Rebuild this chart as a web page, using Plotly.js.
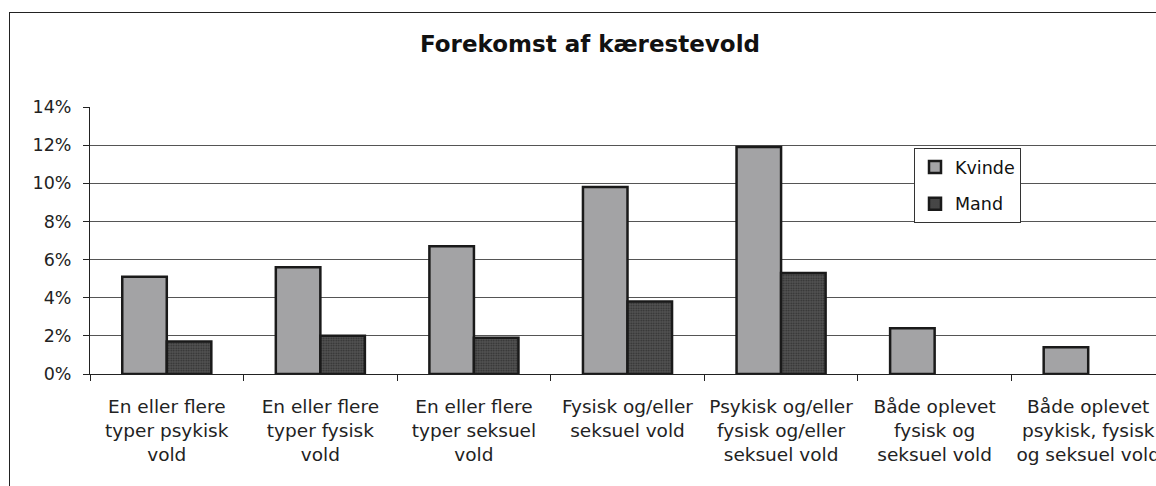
<!DOCTYPE html>
<html>
<head>
<meta charset="utf-8">
<script src="https://cdn.plot.ly/plotly-3.0.1.min.js"></script>
<style>
html, body { margin: 0; padding: 0; overflow: hidden; background: #fff; width: 1156px; height: 486px; }
#chart { position: absolute; left: 9px; top: 12px; width: 1160px; height: 480px; border: 1px solid #222; }
</style>
</head>
<body>
<div id="chart"></div>
<script>
const categories = [
  "En eller flere<br>typer psykisk<br>vold",
  "En eller flere<br>typer fysisk<br>vold",
  "En eller flere<br>typer seksuel<br>vold",
  "Fysisk og/eller<br>seksuel vold",
  "Psykisk og/eller<br>fysisk og/eller<br>seksuel vold",
  "Både oplevet<br>fysisk og<br>seksuel vold",
  "Både oplevet<br>psykisk, fysisk<br>og seksuel vold"
];
const kvinde = [0.051, 0.056, 0.067, 0.098, 0.119, 0.024, 0.014];
const mand = [0.017, 0.020, 0.019, 0.038, 0.053, null, null];
const yTickVals = [0, 0.02, 0.04, 0.06, 0.08, 0.10, 0.12, 0.14];
const yTickText = ["0%", "2%", "4%", "6%", "8%", "10%", "12%", "14%"];

const font = "DejaVu Sans, Verdana, sans-serif";

const traces = [
  {
    type: "bar", name: "Kvinde", x: categories, y: kvinde,
    legendgroup: "k",
    marker: { color: "#a3a3a5", line: { color: "#1a1a1a", width: 2.5 } },
    hoverinfo: "skip"
  },
  {
    type: "bar", name: "Mand", x: categories, y: mand,
    legendgroup: "m",
    marker: {
      color: "#3c3c3c",
      line: { color: "#1a1a1a", width: 2.5 },
      pattern: { shape: ".", bgcolor: "#555", fgcolor: "#2e2e2e", size: 2.5, solidity: 0.4 }
    },
    hoverinfo: "skip"
  }
];

const layout = {
  width: 1160, height: 480,
  margin: { l: 80, r: 5, t: 94, b: 119 },
  paper_bgcolor: "#fff", plot_bgcolor: "#fff",
  font: { family: font, color: "#222", size: 17.5 },
  title: {
    text: "<b>Forekomst af kærestevold</b>",
    font: { family: font, size: 23, color: "#111" },
    x: 0.5, xref: "container", xanchor: "center",
    y: 1 - 31 / 480, yref: "container", yanchor: "middle"
  },
  barmode: "group", bargap: 0.42, bargroupgap: 0,
  showlegend: true,
  legend: {
    x: (904 - 80) / 1075, y: 1 - (135 - 94) / 267,
    xanchor: "left", yanchor: "top",
    bgcolor: "#fff", bordercolor: "#333", borderwidth: 1,
    font: { family: font, size: 17.5, color: "#111" },
    traceorder: "grouped", tracegroupgap: 11,
    itemwidth: 30
  },
  xaxis: {
    type: "category",
    range: [-0.5, 6.5],
    tickson: "boundaries",
    ticks: "outside", ticklen: 6, tickcolor: "#222", tickwidth: 1,
    showline: true, linecolor: "#222", linewidth: 1,
    showgrid: false, zeroline: false,
    tickangle: 0,
    ticklabelstandoff: 16,
    tickfont: { family: font, size: 18.5, color: "#222" },
    fixedrange: true
  },
  yaxis: {
    range: [0, 0.14],
    tickvals: yTickVals, ticktext: yTickText,
    ticks: "outside", ticklen: 6, tickcolor: "#222", tickwidth: 1,
    showline: true, linecolor: "#222", linewidth: 1,
    showgrid: true, gridcolor: "#555", gridwidth: 1,
    zeroline: false,
    ticklabelstandoff: 8,
    tickfont: { family: font, size: 17.5, color: "#222" },
    fixedrange: true
  }
};

Plotly.newPlot("chart", traces, layout, { displayModeBar: false, staticPlot: true });
</script>
</body>
</html>
